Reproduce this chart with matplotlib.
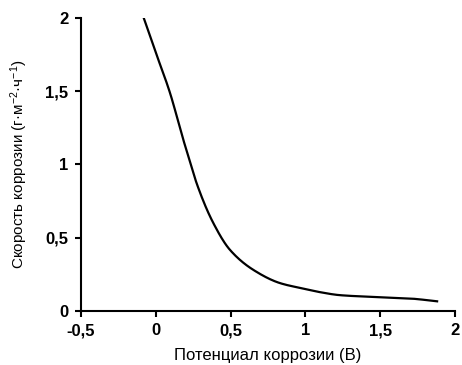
import matplotlib
matplotlib.use("Agg")
import matplotlib.pyplot as plt
import numpy as np

plt.rcParams['font.family'] = ['Liberation Sans', 'DejaVu Sans']
plt.rcParams['mathtext.fontset'] = 'custom'
plt.rcParams['mathtext.rm'] = 'Liberation Sans'
plt.rcParams['mathtext.it'] = 'Liberation Sans:italic'

potential = [-0.08, 0.0, 0.095, 0.184, 0.229, 0.274, 0.385, 0.497, 0.653, 0.831, 1.0, 1.1, 1.23, 1.45, 1.7, 1.88]
rate = [2.0, 1.765, 1.49, 1.17, 1.02, 0.87, 0.60, 0.416, 0.28, 0.19, 0.15, 0.128, 0.108, 0.096, 0.085, 0.066]

x_ticks = [-0.5, 0, 0.5, 1, 1.5, 2]
x_labels = ['-0,5', '0', '0,5', '1', '1,5', '2']
y_ticks = [0, 0.5, 1, 1.5, 2]
y_labels = ['0', '0,5', '1', '1,5', '2']

fig = plt.figure(figsize=(4.62, 3.65), dpi=100)
ax = fig.add_axes([0.175, 0.148, 0.81, 0.803])

# smooth curve through read points (monotone cubic interpolation for display)
def pchip(x, y, xn):
    x = np.asarray(x, float); y = np.asarray(y, float)
    h = np.diff(x); d = np.diff(y) / h
    m = np.zeros_like(y)
    for k in range(1, len(x) - 1):
        if d[k-1] * d[k] > 0:
            w1 = 2*h[k] + h[k-1]; w2 = h[k] + 2*h[k-1]
            m[k] = (w1 + w2) / (w1/d[k-1] + w2/d[k])
    m[0] = d[0]; m[-1] = d[-1]
    idx = np.clip(np.searchsorted(x, xn) - 1, 0, len(x) - 2)
    t = (xn - x[idx]) / h[idx]
    h00 = 2*t**3 - 3*t**2 + 1; h10 = t**3 - 2*t**2 + t
    h01 = -2*t**3 + 3*t**2; h11 = t**3 - t**2
    return h00*y[idx] + h10*h[idx]*m[idx] + h01*y[idx+1] + h11*h[idx]*m[idx+1]

xs = np.linspace(potential[0], potential[-1], 400)
ax.plot(xs, pchip(potential, rate, xs), color='black', lw=1.6)

ax.set_xlim(-0.5, 2)
ax.set_ylim(0, 2)
ax.set_xticks(x_ticks)
ax.set_xticklabels(x_labels, fontweight='bold', fontsize=12)
ax.set_yticks(y_ticks)
ax.set_yticklabels(y_labels, fontweight='bold', fontsize=12)
for s in ['top', 'right']:
    ax.spines[s].set_visible(False)
for s in ['left', 'bottom']:
    ax.spines[s].set_linewidth(1.5)
ax.tick_params(direction='out', length=4, width=1.5, pad=5)

ax.set_xlabel('Потенциал коррозии (В)', fontsize=12, labelpad=7)
ax.set_ylabel('Скорость коррозии (г·м$^{\\mathregular{-2}}$·ч$^{\\mathregular{-1}}$)', fontsize=11, labelpad=11)

fig.savefig('out.png', dpi=100)
